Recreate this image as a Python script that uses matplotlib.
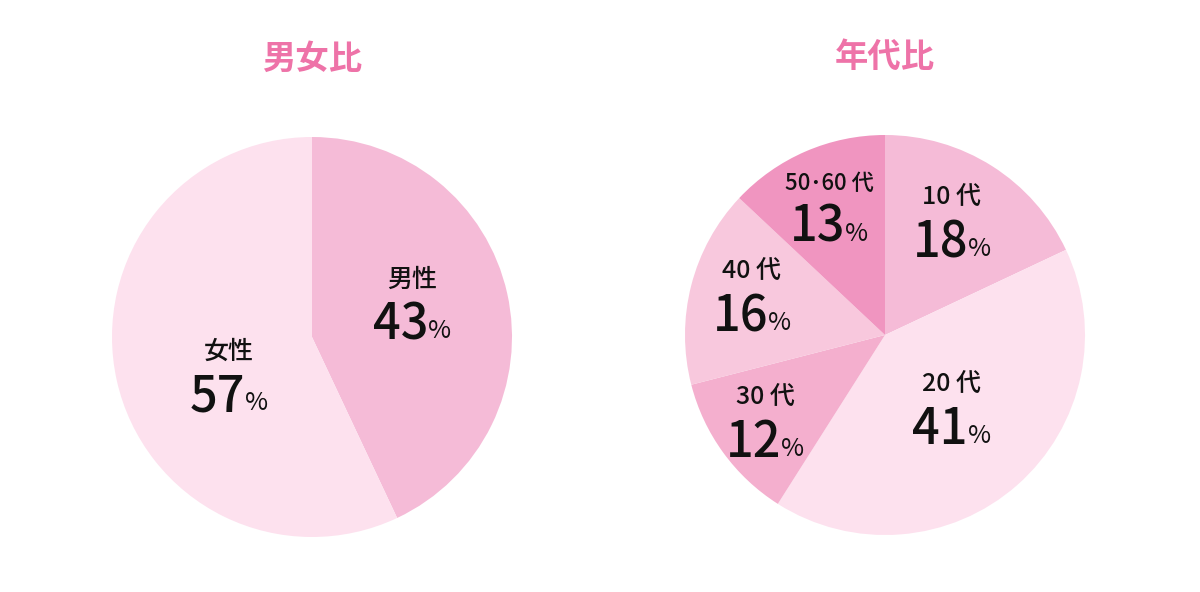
import matplotlib
matplotlib.use('Agg')
import matplotlib.pyplot as plt

plt.rcParams['font.family'] = ['Noto Sans CJK JP', 'DejaVu Sans']

# データ
gender_labels = ['男性', '女性']
gender_values = [43, 57]
gender_colors = ['#F5BBD7', '#FDE1EE']

age_labels = ['10 代', '20 代', '30 代', '40 代', '50･60 代']
age_values = [18, 41, 12, 16, 13]
age_colors = ['#F5BBD7', '#FDE1EE', '#F4AFCE', '#F8C8DD', '#F095C0']

# ラベル位置 (半径に対する比率)
gender_pos = [(0.5, 0.285), (-0.415, -0.075)]
age_pos = [(0.335, 0.685), (0.335, -0.25), (-0.6, -0.315),
           (-0.665, 0.315), (-0.28, 0.76)]

title_color = '#EE73A8'

fig = plt.figure(figsize=(12, 5.92), dpi=100)


def draw_pie(rect, values, labels, colors, positions, title):
    ax = fig.add_axes(rect)
    ax.pie(values, colors=colors, startangle=90, counterclock=False,
           radius=1, wedgeprops=dict(linewidth=0))
    ax.set_xlim(-1, 1)
    ax.set_ylim(-1, 1)
    ax.set_aspect('equal')
    ax.axis('off')
    for lab, val, (x, y) in zip(labels, values, positions):
        fs = 16 if '･' in lab else 18
        ax.text(x, y, lab, ha='center', va='center', fontsize=fs,
                fontweight='medium', color='#111111')
        num = ax.text(x + 0.08, y - 0.225, str(val), ha='right',
                      va='center', fontsize=35, fontweight='medium',
                      color='#111111')
        ax.annotate('%', xy=(1, 0.12), xycoords=num, xytext=(0, 0),
                    textcoords='offset points', ha='left', va='bottom',
                    fontsize=18, color='#111111')
    ax.text(0, 1.39, title, ha='center', va='center', fontsize=24,
            fontweight='bold', color=title_color)
    return ax


draw_pie([112 / 1200, 55 / 592, 400 / 1200, 400 / 592],
         gender_values, gender_labels, gender_colors, gender_pos, '男女比')
draw_pie([685 / 1200, 57 / 592, 400 / 1200, 400 / 592],
         age_values, age_labels, age_colors, age_pos, '年代比')

fig.savefig('out.png', dpi=100, facecolor='white')
